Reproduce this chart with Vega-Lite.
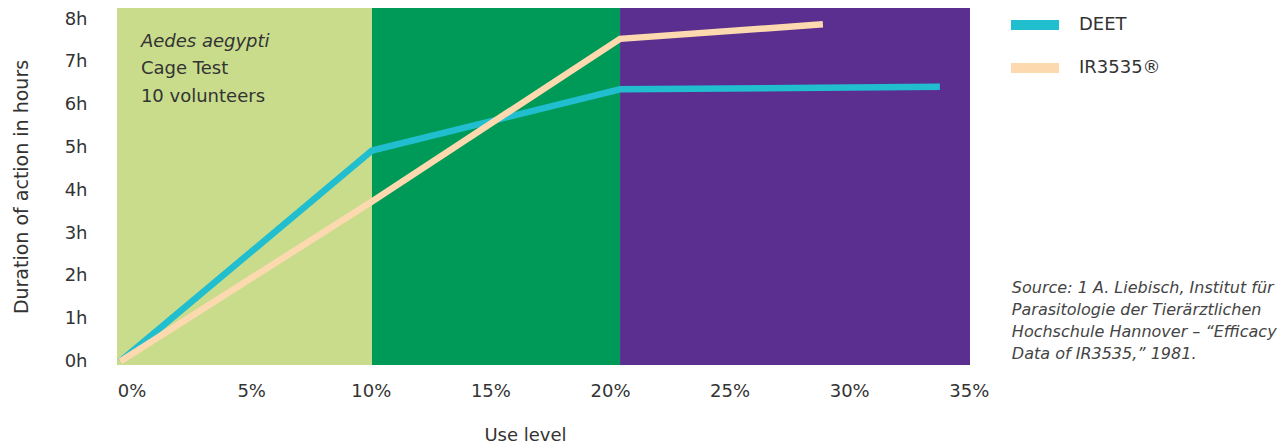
{
  "$schema": "https://vega.github.io/schema/vega-lite/v6.json",
  "width": 853,
  "height": 357,
  "autosize": {"type": "none"},
  "padding": {"left": 117, "top": 8, "right": 313, "bottom": 82},
  "background": "white",
  "config": {
    "view": {"stroke": null},
    "font": "DejaVu Sans",
    "axis": {"labelFont": "DejaVu Sans", "titleFont": "DejaVu Sans", "labelColor": "#333333", "titleColor": "#333333", "titleFontWeight": "normal", "domain": false, "ticks": false, "grid": false}
  },
  "datasets": {
    "bands": [
      {"band": "a", "start": -0.61, "end": 10.05},
      {"band": "b", "start": 10.05, "end": 20.42},
      {"band": "c", "start": 20.42, "end": 35.05}
    ],
    "lines": [
      {"product": "DEET", "level": -0.48, "hours": 0},
      {"product": "DEET", "level": 10.05, "hours": 4.93},
      {"product": "DEET", "level": 20.42, "hours": 6.36},
      {"product": "DEET", "level": 33.79, "hours": 6.42},
      {"product": "IR3535®", "level": -0.48, "hours": 0},
      {"product": "IR3535®", "level": 10.05, "hours": 3.74},
      {"product": "IR3535®", "level": 20.42, "hours": 7.54},
      {"product": "IR3535®", "level": 28.9, "hours": 7.88}
    ],
    "one": [{}]
  },
  "layer": [
    {
      "data": {"name": "bands"},
      "mark": {"type": "rect"},
      "encoding": {
        "x": {"field": "start", "type": "quantitative", "scale": {"domain": [-0.61, 35.05], "nice": false, "zero": false},
          "axis": {"values": [0, 5, 10, 15, 20, 25, 30, 35], "labelExpr": "datum.value + '%'", "labelFontSize": 18, "labelPadding": 17, "title": "Use level", "titleFontSize": 18, "titlePadding": 26, "titleX": 408}},
        "x2": {"field": "end"},
        "fill": {"field": "band", "type": "nominal", "scale": {"domain": ["a", "b", "c"], "range": ["#C8DC8C", "#009A58", "#5B2F8F"]}, "legend": null}
      }
    },
    {
      "data": {"name": "lines"},
      "mark": {"type": "line", "strokeWidth": 6.5, "strokeCap": "butt", "strokeJoin": "miter"},
      "encoding": {
        "x": {"field": "level", "type": "quantitative"},
        "y": {"field": "hours", "type": "quantitative", "scale": {"domain": [-0.08, 8.26], "nice": false, "zero": false},
          "axis": {"values": [0, 1, 2, 3, 4, 5, 6, 7, 8], "labelExpr": "datum.value + 'h'", "labelFontSize": 18, "labelPadding": 30, "title": "Duration of action in hours", "titleFontSize": 19, "titlePadding": 33}},
        "stroke": {"field": "product", "type": "nominal", "scale": {"domain": ["DEET", "IR3535®"], "range": ["#21BECF", "#FDD9AF"]},
          "legend": {"title": null, "orient": "none", "legendX": 901, "legendY": 0, "symbolType": "M-2,0H2", "symbolSize": 576, "symbolStrokeWidth": 10, "labelFontSize": 18, "labelColor": "#333333", "labelOffset": 27, "rowPadding": 3, "labelFont": "DejaVu Sans"}}
      }
    },
    {
      "data": {"name": "one"},
      "mark": {"type": "text", "text": "Aedes aegypti", "fontStyle": "italic", "fontSize": 18, "align": "left", "baseline": "middle", "color": "#333333"},
      "encoding": {"x": {"datum": 0.39}, "y": {"datum": 7.47}}
    },
    {
      "data": {"name": "one"},
      "mark": {"type": "text", "text": ["Cage Test", "10 volunteers"], "fontSize": 18, "lineHeight": 28, "align": "left", "baseline": "middle", "color": "#333333"},
      "encoding": {"x": {"datum": 0.39}, "y": {"datum": 6.84}}
    },
    {
      "data": {"name": "one"},
      "mark": {"type": "text", "text": ["Source: 1 A. Liebisch, Institut für", "Parasitologie der Tierärztlichen", "Hochschule Hannover – “Efficacy", "Data of IR3535,” 1981."], "fontStyle": "italic", "fontSize": 16, "lineHeight": 22, "align": "left", "baseline": "middle", "color": "#444444"},
      "encoding": {"x": {"datum": 36.8}, "y": {"datum": 1.72}}
    }
  ]
}
